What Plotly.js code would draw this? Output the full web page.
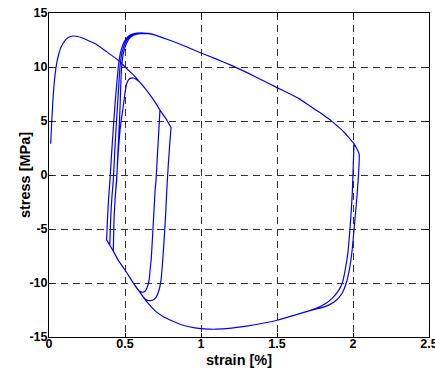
<!DOCTYPE html>
<html>
<head>
<meta charset="utf-8">
<script src="https://cdn.plot.ly/plotly-3.0.1.min.js"></script>
<style>html,body{margin:0;padding:0;background:#fff;}#chart{width:435px;height:371px;}</style>
</head>
<body>
<div id="chart"></div>
<script>
// ---- data (strain in %, stress in MPa) ----
// A: first (virgin) tensile loading
const virginStrain = [0.011,0.020,0.030,0.040,0.050,0.060,0.075,0.093,0.115,0.140,0.160,0.190,0.250,0.302,0.380,0.467,0.500,0.560,0.600,0.650,0.700,0.730];
const virginStress = [2.9,5.5,7.8,9.3,10.3,10.95,11.7,12.2,12.6,12.82,12.87,12.82,12.5,12.17,11.4,10.5,10.0,9.2,8.55,7.7,6.7,6.0];
// B: first unloading into compression (small loop)
const innerDownStrain = [0.730,0.722,0.712,0.704,0.698,0.690,0.680,0.672,0.665,0.660,0.650,0.635,0.620,0.605,0.590];
const innerDownStress = [6.0,4.0,1.5,-0.5,-1.4,-3.5,-6.0,-7.9,-8.8,-9.6,-10.25,-10.7,-10.85,-10.82,-10.7];
// compression softening envelope (from the right end back to the left corner)
const compStrain = [1.70,1.60,1.50,1.40,1.30,1.20,1.10,1.05,1.00,0.95,0.90,0.85,0.80,0.75,0.70,0.65,0.60,0.55,0.50,0.456,0.423,0.400,0.379];
const compStress = [-12.62,-13.05,-13.45,-13.75,-14.0,-14.18,-14.28,-14.27,-14.22,-14.13,-13.98,-13.75,-13.45,-13.1,-12.6,-11.85,-10.9,-9.9,-8.8,-7.9,-7.05,-6.5,-6.0];
// C: reloading of the small loop, back onto the tensile envelope up to 0.8 %
const innerUpStrain = [0.423,0.428,0.436,0.444,0.455,0.470,0.487,0.500,0.510,0.525,0.540,0.555,0.575,0.600,0.650,0.700,0.730,0.770,0.803];
const innerUpStress = [-7.05,-4.0,-2.0,-0.5,2.0,4.5,6.2,7.6,8.4,8.85,8.97,8.98,8.85,8.55,7.7,6.7,6.0,5.2,4.4];
// D: second unloading (from 0.8 %)
const outerDownStrain = [0.803,0.795,0.785,0.775,0.766,0.755,0.745,0.738,0.725,0.705,0.680,0.655,0.635,0.620];
const outerDownStress = [4.4,3.0,1.0,-1.4,-4.0,-6.5,-8.5,-9.6,-10.6,-11.3,-11.6,-11.62,-11.5,-11.28];
// reloading branches of the large loops
const rise1Strain = [0.379,0.385,0.393,0.401,0.412,0.424,0.434,0.445,0.456,0.470,0.490,0.515,0.545,0.580,0.620,0.665];
const rise1Stress = [-6.0,-4.0,-2.0,-0.5,2.0,4.5,6.5,8.3,10.0,11.3,12.2,12.75,13.02,13.13,13.15,13.1];
const rise2Strain = [0.400,0.406,0.414,0.423,0.432,0.442,0.451,0.459,0.467,0.480,0.500,0.525,0.555,0.590,0.630,0.665];
const rise2Stress = [-6.5,-4.0,-2.0,-0.5,2.0,4.5,6.5,8.3,10.0,11.3,12.2,12.75,13.0,13.1,13.12,13.09];
const rise3Strain = [0.423,0.428,0.436,0.445,0.453,0.462,0.468,0.472,0.478,0.490,0.510,0.535,0.565,0.600,0.635,0.665];
const rise3Stress = [-7.05,-4.0,-2.0,-0.5,2.0,4.5,6.5,8.3,10.0,11.3,12.2,12.75,13.0,13.08,13.1,13.07];
// tensile softening of the large loops
const softStrain = [0.700,0.750,0.800,0.900,1.000,1.094,1.200,1.300,1.400,1.500,1.600,1.644,1.700,1.750,1.800,1.853,1.900,1.940,1.970,2.007];
const softStress = [12.95,12.7,12.45,11.9,11.3,10.78,10.15,9.5,8.8,8.09,7.4,7.07,6.55,6.07,5.6,5.06,4.5,3.98,3.5,2.9];
// unloading branches at 2 %
const down1Strain = [2.007,2.002,1.996,1.990,1.980,1.968,1.950,1.930,1.900,1.864,1.820,1.754];
const down1Stress = [2.9,1.0,-1.43,-3.0,-5.0,-7.0,-8.7,-10.0,-10.8,-11.4,-11.9,-12.37];
const down2Strain = [2.007,2.040,2.036,2.029,2.020,2.007,1.994,1.977,1.956,1.930,1.890,1.840,1.790,1.754];
const down2Stress = [2.9,1.98,0.0,-1.43,-3.0,-5.0,-7.0,-8.7,-10.0,-10.9,-11.6,-12.05,-12.3,-12.42];

// pick the part of the compression envelope between two strains (moving leftwards)
function envPart(fromX, toX) {
  const xs = [], ys = [];
  compStrain.forEach((x, i) => { if (x < fromX && x >= toX - 1e-9) { xs.push(x); ys.push(compStress[i]); } });
  return [xs, ys];
}
const X = [], Y = [];
function add(xs, ys) { xs.forEach((x, i) => { X.push(x); Y.push(ys[i]); }); }

add(virginStrain, virginStress);
add(innerDownStrain, innerDownStress);
add(...envPart(0.590, 0.423));
add(innerUpStrain, innerUpStress);
add(outerDownStrain, outerDownStress);
add(...envPart(0.620, 0.379));
add(rise1Strain, rise1Stress);
add(softStrain, softStress);
add(down1Strain, down1Stress);
add(...envPart(1.754, 0.400));
add(rise2Strain, rise2Stress);
add(softStrain, softStress);
add(down2Strain, down2Stress);
add(...envPart(1.754, 0.423));
add(rise3Strain, rise3Stress);
add(softStrain, softStress);

const xTicks = [0, 0.5, 1, 1.5, 2, 2.5];
const xTickText = ['0', '0.5', '1', '1.5', '2', '2.5'];
const yTicks = [-15, -10, -5, 0, 5, 10, 15];
const yTickText = ['-15', '-10', '-5', '0', '5', '10', '15'];
const xTitle = 'strain [%]';
const yTitle = 'stress [MPa]';

const tickFont = {family: 'Liberation Sans, Arial, sans-serif', size: 12.5, color: '#000', weight: 'bold'};
const titleFont = {family: 'Liberation Sans, Arial, sans-serif', size: 14.5, color: '#000', weight: 'bold'};

const axisCommon = {
  showline: true, linecolor: '#000', linewidth: 1, mirror: 'ticks',
  ticks: 'inside', ticklen: 4, tickcolor: '#000', tickwidth: 1,
  showgrid: true, gridcolor: '#333', gridwidth: 1, griddash: '7px,5px',
  zeroline: false, tickfont: tickFont, automargin: false, ticklabeloverflow: 'allow'
};

Plotly.newPlot('chart', [{
  x: X, y: Y, type: 'scatter', mode: 'lines',
  line: {color: '#0000ff', width: 1.2, shape: 'spline', smoothing: 0.5},
  hoverinfo: 'skip', showlegend: false
}], {
  width: 435, height: 371,
  margin: {l: 49, r: 6, t: 13, b: 34, pad: 0},
  paper_bgcolor: '#fff', plot_bgcolor: '#fff',
  showlegend: false,
  xaxis: Object.assign({}, axisCommon, {
    range: [0, 2.5], tickvals: xTicks, ticktext: xTickText, ticklabelstandoff: -5
  }),
  yaxis: Object.assign({}, axisCommon, {
    range: [-15, 15], tickvals: yTicks, ticktext: yTickText, ticklabelstandoff: -2
  }),
  annotations: [
    {text: xTitle, font: titleFont, xref: 'paper', yref: 'paper', x: 0.5, y: -0.072,
     xanchor: 'center', yanchor: 'middle', showarrow: false},
    {text: yTitle, font: titleFont, xref: 'paper', yref: 'paper', x: -0.063, y: 0.5,
     xanchor: 'center', yanchor: 'middle', textangle: -90, showarrow: false}
  ]
}, {staticPlot: true, displayModeBar: false});
</script>
</body>
</html>
